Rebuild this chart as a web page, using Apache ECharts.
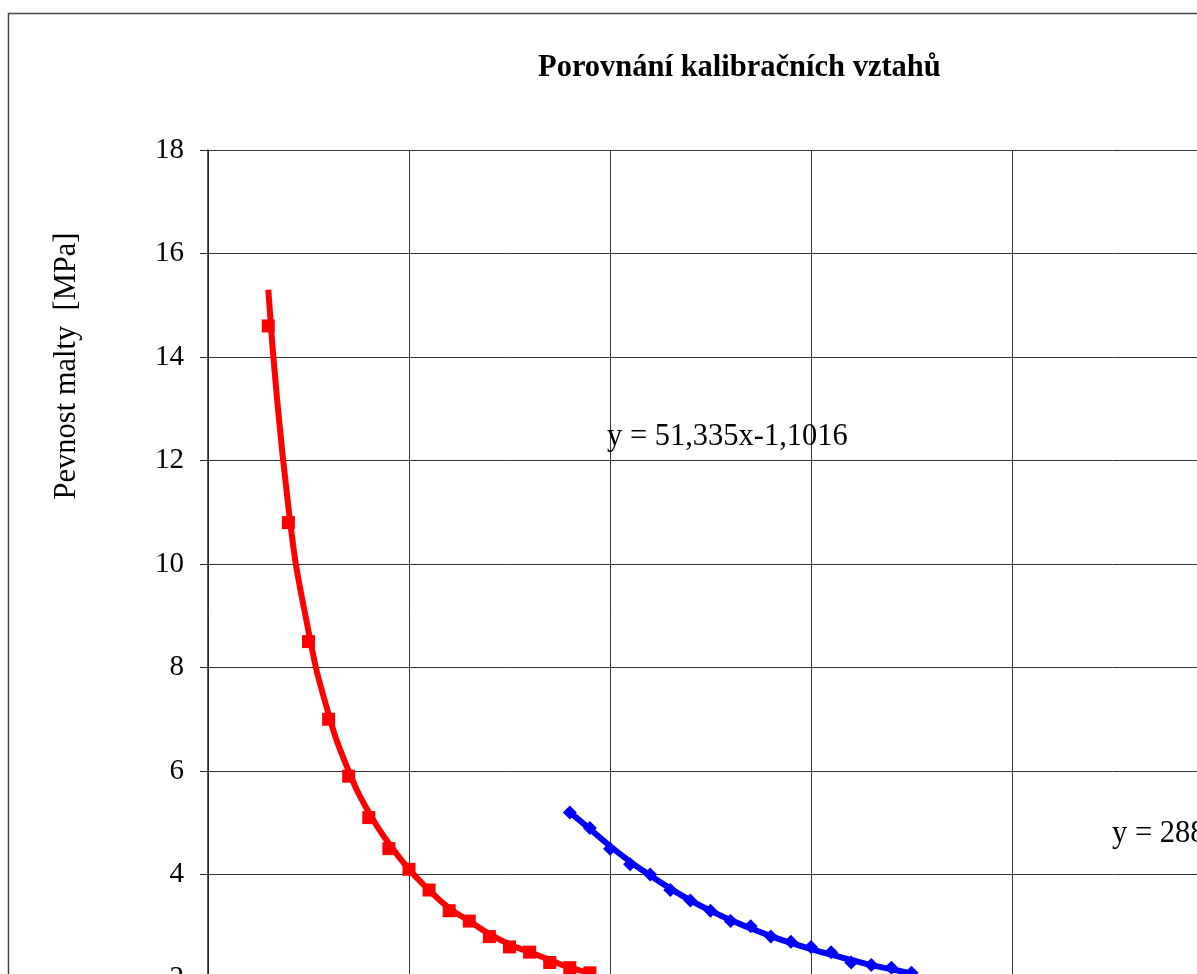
<!DOCTYPE html>
<html>
<head>
<meta charset="utf-8">
<script src="https://cdn.jsdelivr.net/npm/echarts@6/dist/echarts.min.js"></script>
<style>
  html, body { margin: 0; padding: 0; overflow: hidden; background: #fff; }
  #chart { position: absolute; left: 0; top: 0; width: 1500px; height: 1250px; }
</style>
</head>
<body>
<div id="chart"></div>
<script>
// data
var redX = [3, 4, 5, 6, 7, 8, 9, 10, 11, 12, 13, 14, 15, 16, 17, 18, 19];
var redY = [14.6, 10.8, 8.5, 7.0, 5.9, 5.1, 4.5, 4.1, 3.7, 3.3, 3.1, 2.8, 2.6, 2.5, 2.3, 2.2, 2.1];
// red curve as drawn (trend line)
var redLineX = [3, 4, 5, 6, 7, 8, 9, 10, 11, 12, 13, 14, 15, 16, 17, 18, 19];
var redLineY = [15.3, 11.1, 8.7, 7.1, 6.0, 5.2, 4.6, 4.1, 3.7, 3.35, 3.1, 2.85, 2.65, 2.5, 2.35, 2.2, 2.1];

var blueX = [18, 19, 20, 21, 22, 23, 24, 25, 26, 27, 28, 29, 30, 31, 32, 33, 34, 35];
var blueY = [5.2, 4.9, 4.5, 4.2, 4.0, 3.7, 3.5, 3.3, 3.1, 3.0, 2.8, 2.7, 2.6, 2.5, 2.3, 2.25, 2.2, 2.1];
var blueLineY = [5.2, 4.88, 4.55, 4.25, 3.98, 3.73, 3.5, 3.3, 3.12, 2.96, 2.81, 2.68, 2.56, 2.45, 2.35, 2.25, 2.17, 2.09];

var yTicks = [0, 18, 2];   // min, max, step
var xTicks = [0, 60, 10];

var title = 'Porovnání kalibračních vztahů';
var yName = 'Pevnost malty  [MPa]';
var redEq = 'y = 51,335x-1,1016';
var blueEq = 'y = 288,05x-1,3894';

function pairs(xs, ys) {
    return xs.map(function (x, i) { return [x, ys[i]]; });
}

var serif = '"Liberation Serif", "DejaVu Serif", serif';

var myChart = echarts.init(document.getElementById('chart'));
var option = {
    animation: false,
    backgroundColor: '#fff',
    title: {
        text: title,
        left: 533,
        top: 48,
        textStyle: { fontFamily: serif, fontWeight: 'bold', fontSize: 30.5, color: '#000' }
    },
    grid: {
        left: 208,
        top: 150,
        width: 1206,
        height: 931.5
    },
    xAxis: {
        type: 'value',
        min: xTicks[0],
        max: xTicks[1],
        interval: xTicks[2],
        axisLine: { lineStyle: { color: '#222', width: 1.5 } },
        axisTick: { show: true, length: 8, lineStyle: { color: '#222' } },
        axisLabel: { fontFamily: serif, fontSize: 29, color: '#000' },
        splitLine: { lineStyle: { color: '#333', width: 1 } }
    },
    yAxis: {
        type: 'value',
        min: yTicks[0],
        max: yTicks[1],
        interval: yTicks[2],
        axisLine: { show: true, lineStyle: { color: '#222', width: 1.5 } },
        axisTick: { show: true, length: 8, lineStyle: { color: '#222' } },
        axisLabel: { fontFamily: serif, fontSize: 29, color: '#000', margin: 24 },
        splitLine: { lineStyle: { color: '#333', width: 1 } }
    },
    graphic: [
        {
            type: 'rect',
            shape: { x: 8.5, y: 13.5, width: 1480, height: 1230 },
            style: { fill: 'none', stroke: '#444', lineWidth: 1.5 },
            z: -1
        },
        {
            type: 'text',
            x: 67,
            y: 366,
            rotation: Math.PI / 2,
            style: {
                text: yName,
                font: '30.5px ' + serif,
                fill: '#000',
                align: 'center',
                verticalAlign: 'middle'
            }
        },
        {
            type: 'text',
            x: 607,
            y: 437,
            style: { text: redEq, font: '30.5px ' + serif, fill: '#000', verticalAlign: 'middle' },
            z: 10
        },
        {
            type: 'text',
            x: 1112,
            y: 834,
            style: { text: blueEq, font: '30.5px ' + serif, fill: '#000', verticalAlign: 'middle' },
            z: 10
        }
    ],
    series: [
        {
            name: 'red trend',
            type: 'line',
            smooth: true,
            showSymbol: false,
            data: pairs(redLineX, redLineY),
            lineStyle: { color: '#ff0000', width: 6 },
            z: 2
        },
        {
            name: 'red',
            type: 'scatter',
            symbol: 'rect',
            symbolSize: 13,
            data: pairs(redX, redY),
            itemStyle: { color: '#ff0000', opacity: 1 },
            z: 3
        },
        {
            name: 'blue trend',
            type: 'line',
            smooth: true,
            showSymbol: false,
            data: pairs(blueX, blueLineY),
            lineStyle: { color: '#0000ff', width: 6 },
            z: 2
        },
        {
            name: 'blue',
            type: 'scatter',
            symbol: 'diamond',
            symbolSize: 14,
            data: pairs(blueX, blueY),
            itemStyle: { color: '#0000ff', opacity: 1 },
            z: 3
        }
    ]
};
myChart.setOption(option);
window.addEventListener('resize', function () {
    myChart.resize();
});
</script>
</body>
</html>
